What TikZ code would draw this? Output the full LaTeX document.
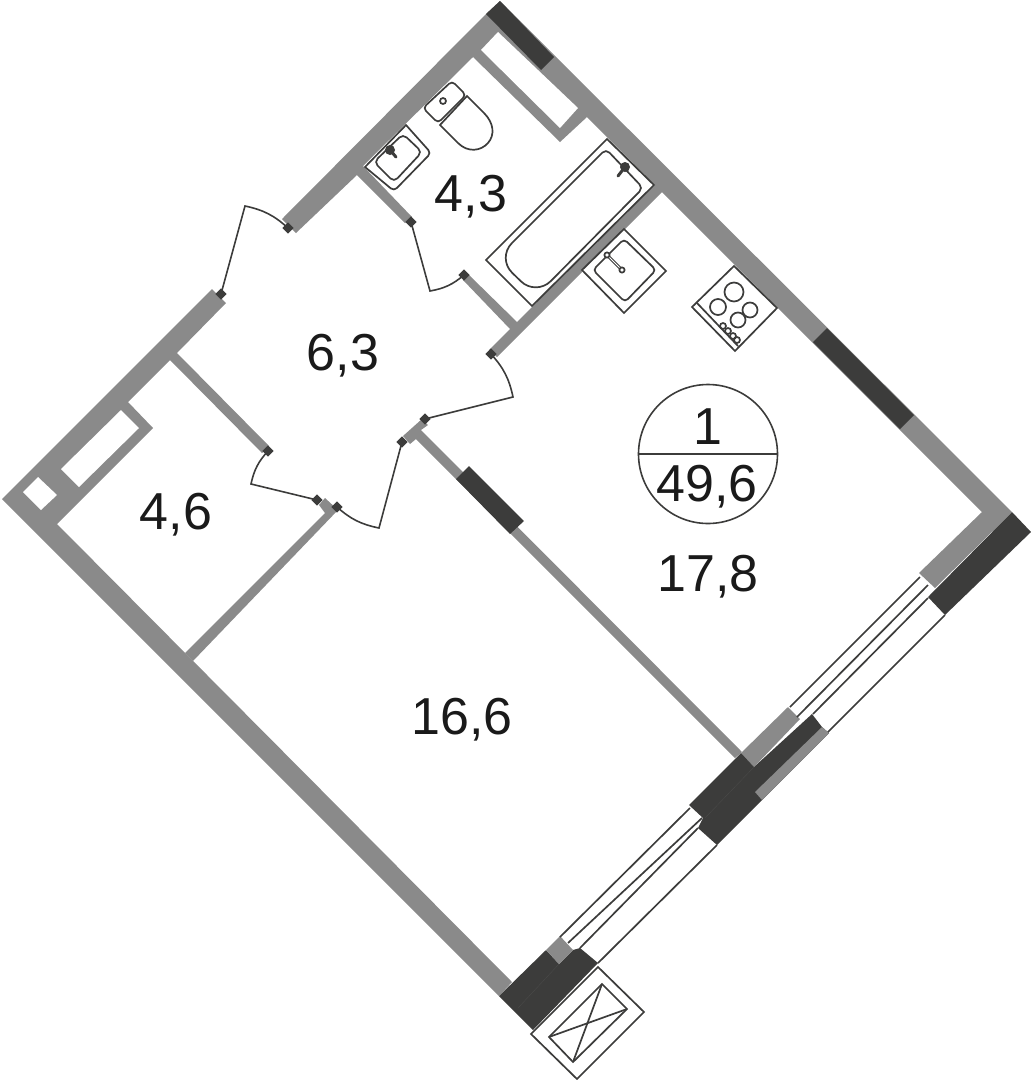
\documentclass[tikz,border=0pt]{standalone}
\usepackage{fontspec}
\setmainfont{Liberation Sans}
\usetikzlibrary{shapes.geometric}
\definecolor{wallgray}{RGB}{138,138,138}
\definecolor{walldark}{RGB}{60,60,59}
\definecolor{seamgray}{RGB}{76,76,75}
\definecolor{labelblack}{RGB}{26,26,26}
\begin{document}
\begin{tikzpicture}[
        x=1pt, y=-1pt,
        wall/.style={fill=wallgray, draw=none},
        dark/.style={fill=walldark, draw=none},
        gap/.style={fill=white, draw=none},
        thinline/.style={draw=walldark, line width=1.7pt, line join=miter},
        fixture/.style={draw=walldark, line width=1.7pt, fill=white},
        hinge/.style={diamond, fill=walldark, inner sep=0pt, minimum size=11.5pt},
        leaf/.style={draw=walldark, line width=1.6pt},
        area/.style={font=\fontsize{52}{52}\selectfont, text=labelblack, inner sep=0pt},
        burner/.style={draw=walldark, line width=1.7pt}
    ]
        \useasboundingbox (0,0) rectangle (1031,1080);

        % Walls
        \fill[wall] (282,219) -- (486,14) -- (500,1) -- (1012,512) -- (935,588) -- (919,573) -- (982,512) -- (662,192) -- (497,357) -- (489,350) -- (510,329) -- (463,280) -- (469,275) -- (517,322) -- (655,185) -- (587,117) -- (560,142) -- (473,57) -- (363,166) -- (412,217) -- (405,223) -- (357,175) -- (296,233) -- cycle;
        \fill[wall] (212,289) -- (2,499) -- (499,996) -- (512,982) -- (57,524) -- (153,428) -- (128,402) -- (170,360) -- (262,453) -- (269,446) -- (177,353) -- (226,303) -- cycle;
        \fill[wall] (185,653) -- (325,513) -- (319,505) -- (325,498) -- (338,510) -- (193,661) -- cycle;
        \fill[wall] (403,436) -- (422,419) -- (428,425) -- (421,430) -- (742,752) -- (735,758) -- (416,439) -- (410,444) -- cycle;
        \fill[wall] (788,707) -- (800,719) -- (754,767) -- (741,753) -- cycle;

        % Shafts
        \fill[gap] (481,50) -- (498,32) -- (578,108) -- (560,128) -- cycle;
        \fill[gap] (121,410) -- (139,428) -- (79,487) -- (61,469) -- cycle;
        \fill[gap] (38,477) -- (57,495) -- (41,510) -- (23,492) -- cycle;

        % Dark wall parts
        \fill[dark] (486,14) -- (500,1) -- (554,57) -- (541,70) -- cycle;
        \fill[dark] (827,328) -- (914,415) -- (900,429) -- (813,342) -- cycle;
        \fill[dark] (469,466) -- (524,521) -- (510,534) -- (456,479) -- cycle;
        \fill[dark] (1012,512) -- (1031,532) -- (945,615) -- (928,597) -- cycle;
        \fill[dark] (741,753) -- (754,767) -- (812,714) -- (822,727) -- (829,733) -- (717,845) -- (698,828) -- (703,818) -- (689,805) -- cycle;
        \fill[wall] (822,727) -- (829,733) -- (762,800) -- (755,792) -- cycle;
        \fill[dark] (546,950) -- (559,964) -- (573,950) -- (580,948) -- (598,963) -- (533,1030) -- (499,996) -- cycle;
        \fill[wall] (560,936) -- (573,950) -- (559,964) -- (546,950) -- cycle;
        \draw[seamgray, line width=0.3pt] (754,767) -- (705,818);
        \draw[seamgray, line width=0.3pt] (559,964) -- (518,1008);

        % Windows
        \draw[thinline] (920,577) -- (790,707);
        \draw[thinline] (928,585) -- (797,717);
        \draw[thinline] (928,598) -- (813,714);
        \draw[thinline] (945,615) -- (828,732);
        \draw[thinline] (690,808) -- (560,937);
        \draw[thinline] (702,818) -- (568,943);
        \draw[thinline] (698,828) -- (580,948);
        \draw[thinline] (717,845) -- (598,963);

        % Riser box
        \draw[thinline] (598,967) -- (644,1012) -- (577,1079) -- (531,1034) -- cycle;
        \draw[thinline] (602,984) -- (627,1009) -- (573,1062) -- (549,1037) -- cycle;
        \draw[thinline] (602,984) -- (573,1062);
        \draw[thinline] (627,1009) -- (549,1037);

        % Bath
        \draw[fixture] (607,139) -- (654,185) -- (532,306) -- (486,260) -- cycle;
        \draw[fixture, rounded corners=5pt] (606,149) -- (643,188) [rounded corners=21pt] -- (536,296) -- (497,258) [rounded corners=5pt] -- cycle;
        \draw[walldark, line width=3pt, line cap=round] (625,167) -- (618,176);
        \fill[walldark] (625,167) circle[radius=5];

        % Basin
        \draw[fixture, rounded corners=4pt] (406,125) -- (431,153) -- (394,191) [sharp corners] -- (365,167) -- cycle;
        \draw[fixture, rounded corners=5pt] (403,134) -- (422,152) -- (394,182) -- (374,162) -- cycle;
        \draw[walldark, line width=3pt, line cap=round] (390,150) -- (396,157);
        \fill[walldark] (390,150) circle[radius=5];

        % Toilet
        \draw[fixture, rounded corners=4pt] (452,81) -- (466,95) -- (438,123) -- (423,108) -- cycle;
        \draw[burner] (443,101) circle[radius=3];
        \draw[thinline, fill=white] (467,96) -- (484,113) .. controls (494,123) and (495,135) .. (488,143) .. controls (481,151) and (468,153) .. (458,143) -- (440,125) -- cycle;

        % Kitchen sink
        \draw[fixture] (624,229) -- (666,271) -- (624,313) -- (582,270) -- cycle;
        \draw[fixture, rounded corners=4pt] (624,239) -- (656,270) -- (625,302) -- (593,270) -- cycle;
        \draw[walldark, line width=3pt] (607,255) -- (622,270);
        \draw[white, line width=0.9pt] (607,255) -- (622,270);
        \draw[burner, fill=white] (607,255) circle[radius=2.6];
        \draw[burner, fill=white] (622,270) circle[radius=2.6];

        % Hob
        \draw[fixture] (734,266) -- (777,308) -- (735,351) -- (692,307) -- cycle;
        \draw[thinline] (697,303) -- (738,346);
        \draw[burner] (734,292) circle[radius=9.5];
        \draw[burner] (718,307) circle[radius=8];
        \draw[burner] (750,310) circle[radius=7.5];
        \draw[burner] (738,320) circle[radius=7.5];
        \foreach \kx/\ky in {723/326, 728/331, 733/336, 737/340}
            \draw[burner] (\kx,\ky) circle[radius=3];

        % Hinges
        \node[hinge] (hing1) at (288,228) {};
        \node[hinge] (hing2) at (221,294) {};
        \node[hinge] (hing3) at (411,222) {};
        \node[hinge] (hing4) at (464,275) {};
        \node[hinge] (hing5) at (491,354) {};
        \node[hinge] (hing6) at (425,419) {};
        \node[hinge] (hing7) at (402,442) {};
        \node[hinge] (hing8) at (337,507) {};
        \node[hinge] (hing9) at (317,500) {};
        \node[hinge] (hing10) at (268,451) {};

        % Door leaves
        \coordinate (apex1) at (245,206);
        \coordinate (apex2) at (430,291);
        \coordinate (apex3) at (513,397);
        \coordinate (apex4) at (379,528);
        \coordinate (apex5) at (251,484);
        \draw[leaf] (hing1.center) to[bend right=15] (apex1) -- (hing2.center);
        \draw[leaf] (hing3.center) -- (apex2) to[bend right=15] (hing4.center);
        \draw[leaf] (hing5.center) to[bend left=15] (apex3) -- (hing6.center);
        \draw[leaf] (hing7.center) -- (apex4) to[bend left=15] (hing8.center);
        \draw[leaf] (hing9.center) -- (apex5) to[bend left=15] (hing10.center);

        % Room areas
        \node[area] (bath) at (471,197) {4,3};
        \node[area] (hall) at (343,356) {6,3};
        \node[area] (closet) at (176,515) {4,6};
        \node[area] (kitchen) at (708,577) {17,8};
        \node[area] (bedroom) at (462,720) {16,6};

        % Flat number
        \node[circle, draw=walldark, line width=1.6pt, minimum size=139pt, inner sep=0pt] (flat) at (708,454) {};
        \draw[walldark, line width=1.6pt] (flat.west) -- (flat.east);
        \node[area] (flatno) at (708,427) {1};
        \node[area] (flatarea) at (707,487) {49,6};
    \end{tikzpicture}
\end{document}
